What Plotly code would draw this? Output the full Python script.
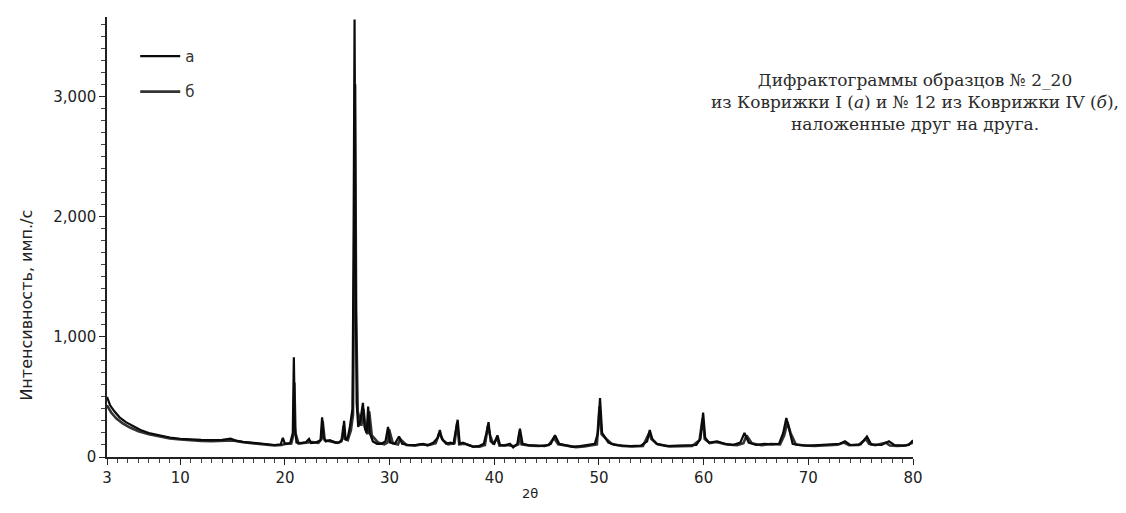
import plotly.graph_objects as go

# Series "а"
x_a = [3.0, 3.3, 3.7, 4.2, 4.8, 5.5, 6.2, 7.0, 8.0, 9.0, 10.0, 11.0, 12.0, 13.0, 14.0, 14.8, 15.3, 16.0, 17.0, 18.0,
       19.0, 19.6, 19.8, 20.0, 20.5, 20.75, 20.85, 20.95, 21.1, 21.5, 22.0, 22.3, 22.5, 23.0, 23.4, 23.55, 23.7, 23.9,
       24.3, 24.8, 25.2, 25.5, 25.65, 25.8, 26.0, 26.2, 26.45, 26.55, 26.65, 26.75, 26.85, 27.0, 27.2, 27.45, 27.6,
       27.8, 27.95, 28.1, 28.4, 28.8, 29.2, 29.6, 29.85, 30.05, 30.5, 30.9, 31.2, 31.8, 32.5, 33.2, 33.6, 34.2, 34.6,
       34.8, 35.0, 35.4, 35.8, 36.1, 36.5, 36.7, 37.0, 37.5, 38.0, 38.5, 39.0, 39.25, 39.45, 39.65, 40.0, 40.3, 40.55,
       41.0, 41.5, 41.8, 42.2, 42.45, 42.7, 43.2, 44.0, 44.8, 45.4, 45.8, 46.2, 46.8, 47.5, 48.2, 49.0, 49.6, 49.9,
       50.1, 50.3, 50.6, 50.9, 51.5, 52.0, 53.0, 54.0, 54.6, 54.85, 55.1, 55.5, 56.5, 57.5, 58.5, 59.3, 59.7, 59.95,
       60.15, 60.5, 61.3, 62.0, 62.8, 63.5, 63.9, 64.3, 65.0, 65.8, 66.5, 67.2, 67.6, 67.9, 68.2, 68.5, 69.0, 70.0,
       71.0, 72.0, 73.0, 73.5, 74.0, 75.0, 75.6, 76.0, 77.0, 77.7, 78.2, 79.0, 79.6, 80.0]
y_a = [500, 430, 380, 330, 290, 255, 225, 200, 178, 162, 152, 145, 142, 140, 142, 152, 136, 126, 116, 106,
       100, 106, 160, 110, 116, 200, 830, 250, 120, 116, 122, 150, 116, 122, 140, 330, 160, 130,
       140, 120, 122, 150, 300, 140, 160, 250, 400, 1700, 3640, 1600, 450, 250, 300, 450, 250,
       200, 420, 200, 130, 110, 110, 130, 250, 120, 110, 170, 110, 100, 100, 110, 95, 120, 160,
       225, 150, 110, 120, 110, 310, 110, 120, 100, 85, 90, 110, 200, 290, 130, 110, 180, 100,
       95, 110, 80, 110, 235, 110, 100, 95, 90, 110, 180, 110, 100, 85, 90, 100, 110, 200,
       490, 200, 160, 120, 100, 95, 90, 95, 130, 225, 150, 110, 90, 95, 95, 100, 150, 370,
       160, 120, 130, 110, 100, 120, 200, 120, 100, 110, 105, 110, 200, 325, 220, 110, 100, 95,
       100, 105, 110, 130, 100, 105, 170, 105, 100, 130, 100, 95, 100, 140]

# Series "б"
x_b = [3.0, 3.4, 3.9, 4.5, 5.2, 6.0, 7.0, 8.0, 9.0, 10.0, 11.0, 12.0, 13.0, 14.0, 15.0, 16.0, 17.0, 18.0, 19.0,
       19.7, 20.0, 20.6, 20.8, 20.9, 21.0, 21.3, 22.0, 22.6, 23.2, 23.5, 23.6, 23.8, 24.5, 25.0, 25.4, 25.6, 25.75,
       26.0, 26.3, 26.5, 26.6, 26.7, 26.8, 26.95, 27.3, 27.5, 27.7, 27.9, 28.05, 28.3, 28.9, 29.5, 29.8, 29.95, 30.3,
       30.8, 31.0, 31.6, 32.4, 33.0, 33.8, 34.4, 34.75, 35.1, 35.6, 36.2, 36.45, 36.65, 37.2, 37.9, 38.6, 39.1, 39.4,
       39.6, 39.9, 40.25, 40.5, 41.2, 41.9, 42.3, 42.4, 42.6, 43.4, 44.3, 45.2, 45.7, 46.1, 46.9, 47.8, 48.6, 49.4,
       49.8, 50.05, 50.25, 50.7, 51.2, 52.2, 53.2, 54.2, 54.8, 55.0, 55.6, 56.8, 57.9, 58.9, 59.6, 59.9, 60.1, 60.6,
       61.2, 62.2, 63.2, 63.8, 64.1, 64.6, 65.5, 66.4, 67.3, 67.7, 68.0, 68.3, 68.8, 69.6, 70.6, 71.8, 72.8, 73.4,
       73.9, 74.8, 75.5, 75.8, 76.4, 77.4, 77.8, 78.5, 79.3, 80.0]
y_b = [430, 370, 320, 280, 245, 215, 190, 170, 155, 145, 138, 134, 132, 134, 138, 122, 112, 102, 96,
       100, 108, 112, 180, 620, 200, 112, 118, 125, 118, 150, 300, 140, 128, 118, 130, 260, 150,
       140, 220, 350, 1500, 3100, 1200, 380, 260, 400, 230, 190, 380, 180, 120, 105, 120, 230, 115,
       105, 150, 100, 95, 105, 100, 115, 200, 140, 105, 115, 280, 105, 110, 90, 85, 100, 260,
       180, 105, 160, 95, 100, 90, 105, 210, 105, 95, 92, 100, 160, 105, 95, 82, 88, 98,
       105, 420, 190, 150, 110, 92, 88, 92, 200, 150, 105, 88, 92, 92, 140, 320, 150, 115,
       125, 105, 98, 115, 180, 115, 98, 108, 105, 180, 290, 200, 105, 96, 92, 98, 102, 120,
       98, 100, 150, 110, 98, 120, 96, 92, 95, 120]

x_ticks = [3, 10, 20, 30, 40, 50, 60, 70, 80]
y_ticks = [0, 1000, 2000, 3000]
y_tick_text = ["0", "1,000", "2,000", "3,000"]

fig = go.Figure()
fig.add_trace(go.Scatter(x=x_b, y=y_b, mode="lines", name="б", legendgroup="b", legendrank=2,
                         line=dict(color="#333333", width=2.6)))
fig.add_trace(go.Scatter(x=x_a, y=y_a, mode="lines", name="а", legendgroup="a", legendrank=1,
                         line=dict(color="#0a0a0a", width=2.2)))

axis_font = dict(family="DejaVu Sans, sans-serif", size=15, color="#222")

fig.update_layout(
    width=1126, height=513,
    margin=dict(l=107, r=213, t=17, b=56),
    paper_bgcolor="white", plot_bgcolor="white",
    showlegend=True,
    legend=dict(x=0.035, y=0.948, xanchor="left", yanchor="top",
                traceorder="grouped", tracegroupgap=13,
                font=dict(family="DejaVu Sans, sans-serif", size=15, color="#333"),
                bgcolor="rgba(0,0,0,0)", itemwidth=40),
    xaxis=dict(range=[3, 80], tickmode="array", tickvals=x_ticks, ticktext=[str(v) for v in x_ticks],
               showgrid=False, zeroline=False, showline=True, linecolor="#222", linewidth=1.5,
               ticks="outside", ticklen=6, tickcolor="#222", tickfont=axis_font,
               minor=dict(tickmode="array", tickvals=list(range(3, 81)), ticks="outside",
                          ticklen=4, tickcolor="#444", tickwidth=1)),
    yaxis=dict(range=[0, 3660], tickmode="array", tickvals=y_ticks, ticktext=y_tick_text,
               showgrid=False, zeroline=False, showline=True, linecolor="#222", linewidth=1.5,
               ticks="outside", ticklen=6, tickcolor="#222", tickfont=axis_font,
               minor=dict(tickmode="array", tickvals=list(range(0, 3700, 100)), ticks="outside",
                          ticklen=4, tickcolor="#444", tickwidth=1)),
    annotations=[
        dict(text="Интенсивность, имп./с", textangle=-90, xref="paper", yref="paper",
             x=-0.1, y=0.345, xanchor="center", yanchor="middle", showarrow=False,
             font=dict(family="DejaVu Sans, sans-serif", size=16, color="#222")),
        dict(text="2θ", xref="paper", yref="paper", x=0.525, y=-0.062, xanchor="center", yanchor="top",
             showarrow=False, font=dict(family="DejaVu Sans, sans-serif", size=13, color="#222")),
        dict(text="Дифрактограммы образцов № 2_20<br>из Коврижки I (<i>а</i>) и № 12 из Коврижки IV (<i>б</i>),<br>наложенные друг на друга.",
             xref="paper", yref="paper", x=1.002, y=0.884, xanchor="center", yanchor="top",
             align="center", showarrow=False,
             font=dict(family="DejaVu Serif, serif", size=17, color="#2a2a2a")),
    ],
)

fig.write_html("out.html")
